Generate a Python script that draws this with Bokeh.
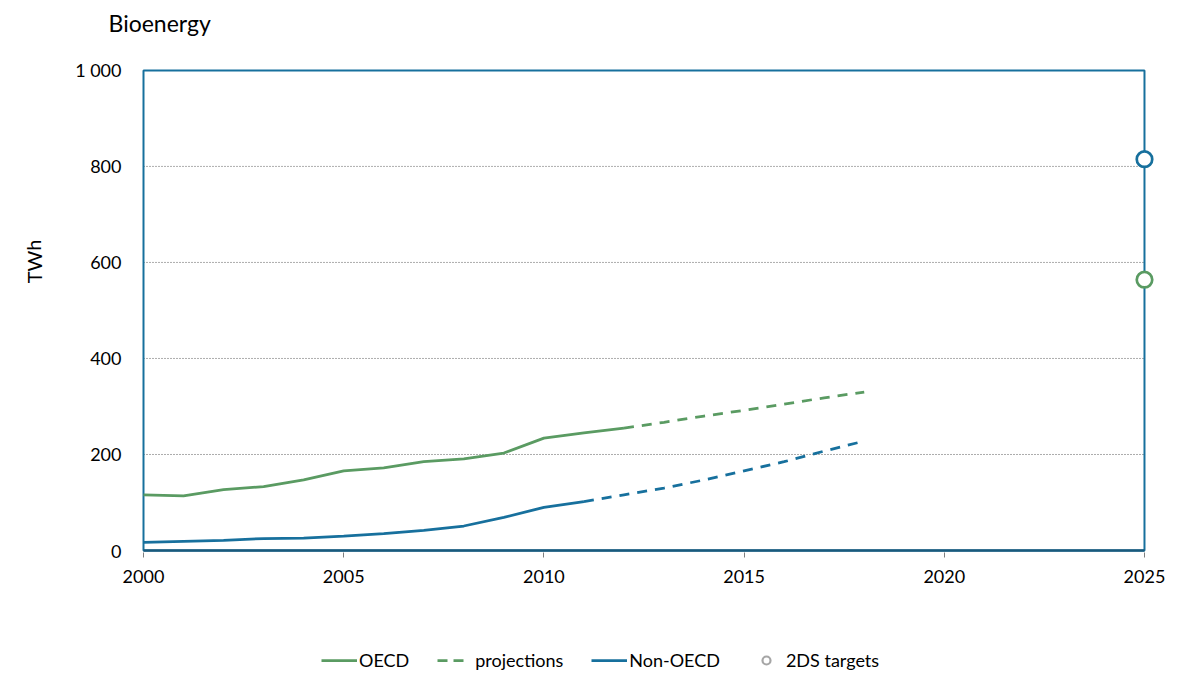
from bokeh.plotting import figure
from bokeh.models import Legend, LegendItem, FixedTicker, Range1d, Label
from bokeh.layouts import column, row
from bokeh.embed import file_html
from bokeh.resources import INLINE

# ---- data ----
oecd_years = [2000, 2001, 2002, 2003, 2004, 2005, 2006, 2007, 2008, 2009, 2010, 2011, 2012]
oecd_values = [116, 114, 127, 133, 147, 166, 172, 185, 191, 203, 234, 245, 255]
oecd_proj_years = [2012, 2013, 2014, 2015, 2016, 2017, 2018]
oecd_proj_values = [255, 267, 280, 292, 305, 318, 330]
non_years = [2000, 2001, 2002, 2003, 2004, 2005, 2006, 2007, 2008, 2009, 2010, 2011]
non_values = [17, 19, 21, 25, 26, 30, 35, 42, 51, 69, 90, 102]
non_proj_years = [2011, 2012, 2013, 2014, 2015, 2016, 2017, 2018]
non_proj_values = [102, 116, 130, 147, 166, 185, 207, 228]
target_years = [2025]
oecd_target = [564]
non_target = [815]
x_ticks = [2000, 2005, 2010, 2015, 2020, 2025]
y_ticks = [0, 200, 400, 600, 800, 1000]
legend_labels = ["OECD", "projections", "Non-OECD", "2DS targets"]

GREEN = "#5A9B62"
BLUE = "#17709D"
DARK = "#1A5A7C"
GREY = "#A6A6A6"
FONT = "Lato"

# shared y range: the frame is a little larger than the drawn box
Y0, Y1 = y_ticks[0] - 4.15, y_ticks[-1] + 58.1

# the frame is a little larger than the drawn box so the 2025 markers are not clipped
p = figure(width=1130, height=600, output_backend="svg", toolbar_location=None,
           x_range=Range1d(x_ticks[0] - 0.05, x_ticks[-1] + 0.3),
           y_range=Range1d(Y0, Y1),
           min_border_left=81, min_border_right=34, min_border_top=40, min_border_bottom=48)
p.outline_line_color = None
p.xgrid.visible = False
p.ygrid.visible = False

# dotted grid lines between the box borders
grid_vals = y_ticks[1:-1]
p.segment(x0=[x_ticks[0]] * len(grid_vals), x1=[x_ticks[-1]] * len(grid_vals),
          y0=grid_vals, y1=grid_vals, line_color="#5a5a5a", line_width=1, line_dash="1 2")

# plot box
p.quad(left=[x_ticks[0]], right=[x_ticks[-1]], bottom=[y_ticks[0]], top=[y_ticks[-1]],
       fill_color=None, line_color=BLUE, line_width=2)
p.line([x_ticks[0], x_ticks[-1]], [y_ticks[0], y_ticks[0]], line_color=DARK, line_width=2.5)

p.xaxis.ticker = FixedTicker(ticks=x_ticks)
p.xaxis.minor_tick_line_color = None
p.xaxis.major_tick_in = 0
p.xaxis.major_tick_out = 5
p.xaxis.major_tick_line_color = "#7f7f7f"
p.xaxis.axis_line_color = None
p.xaxis.major_label_text_font = FONT
p.xaxis.major_label_text_font_size = "18px"
p.xaxis.major_label_text_color = "#000000"
p.xaxis.major_label_standoff = 12

p.yaxis.ticker = FixedTicker(ticks=y_ticks)
p.yaxis.major_label_overrides = {1000: "1 000"}
p.yaxis.minor_tick_line_color = None
p.yaxis.major_tick_line_color = None
p.yaxis.major_tick_out = 0
p.yaxis.major_tick_in = 0
p.yaxis.axis_line_color = None
p.yaxis.major_label_text_font = FONT
p.yaxis.major_label_text_font_size = "18px"
p.yaxis.major_label_text_color = "#000000"
p.yaxis.major_label_standoff = 20

p.line(oecd_years, oecd_values, line_color=GREEN, line_width=2.75)
p.line(oecd_proj_years, oecd_proj_values, line_color=GREEN, line_width=2.75, line_dash="10 8")
p.line(non_years, non_values, line_color=BLUE, line_width=2.75)
p.line(non_proj_years, non_proj_values, line_color=BLUE, line_width=2.75, line_dash="10 8")
p.scatter(target_years, oecd_target, size=15.5, marker="circle", line_color=GREEN, line_width=2.7, fill_color="white")
p.scatter(target_years, non_target, size=15.5, marker="circle", line_color=BLUE, line_width=2.7, fill_color="white")

p.title.text = "Bioenergy"
p.title.align = "left"
p.title.offset = -33
p.title.text_font = FONT
p.title.text_font_size = "23px"
p.title.text_font_style = "normal"
p.title.text_color = "#000000"
p.title.standoff = 12

# ---- strip at the left holding the unit label ----
strip = figure(width=60, height=600, output_backend="svg", toolbar_location=None,
               x_range=Range1d(0, 60), y_range=Range1d(Y0, Y1), x_axis_type=None, y_axis_type=None,
               min_border_left=0, min_border_right=0, min_border_top=40, min_border_bottom=48)
strip.outline_line_color = None
strip.xgrid.visible = False
strip.ygrid.visible = False
strip.add_layout(Label(x=33, y=602, text="TWh", angle=1.5708, text_align="center",
                       text_baseline="middle", text_font=FONT, text_font_size="20px",
                       text_color="#000000"))

# ---- legend strip below the chart ----
lg = figure(width=1190, height=80, output_backend="svg", toolbar_location=None,
            x_range=Range1d(0, 1), y_range=Range1d(0, 1), x_axis_type=None, y_axis_type=None,
            min_border_left=141, min_border_right=34, min_border_top=0, min_border_bottom=0)
lg.outline_line_color = None
lg.xgrid.visible = False
lg.ygrid.visible = False
lr1 = lg.line(x=[-5, -4], y=[-5, -5], line_color=GREEN, line_width=2.75)
lr2 = lg.line(x=[-5, -4], y=[-5, -5], line_color=GREEN, line_width=2.75, line_dash="10 6 10 20")
lr3 = lg.line(x=[-5, -4], y=[-5, -5], line_color=BLUE, line_width=2.75)
lr4 = lg.scatter(x=[-5], y=[-5], size=7, marker="circle", line_color=GREY, line_width=2.2, fill_color="white")

legend = Legend(items=[LegendItem(label=lab, renderers=[r])
                       for lab, r in zip(legend_labels, [lr1, lr2, lr3, lr4])],
                orientation="horizontal", location=(180, 9), border_line_color=None,
                background_fill_alpha=0, label_text_font=FONT, label_text_font_size="18px",
                label_text_color="#000000", glyph_width=36, label_standoff=2, spacing=28,
                padding=0, margin=0)
lg.add_layout(legend, "center")

layout = column(row(strip, p, spacing=0), lg, spacing=0)
open("out.html", "w").write(file_html(layout, INLINE))
